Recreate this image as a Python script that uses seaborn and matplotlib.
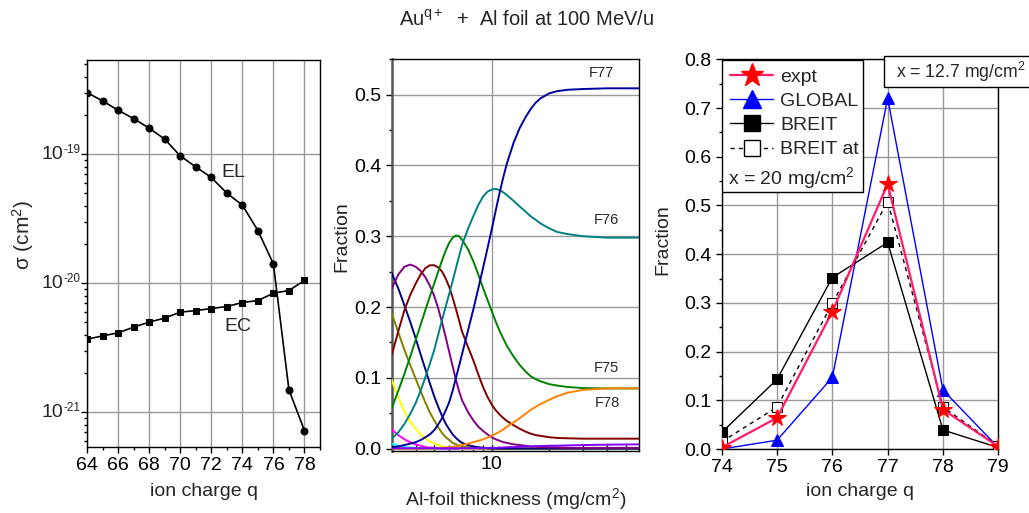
import numpy as np
import pandas as pd
import matplotlib
matplotlib.use("Agg")
import matplotlib.pyplot as plt
import matplotlib.transforms as mtransforms
from matplotlib.lines import Line2D
from matplotlib.patches import Rectangle
from matplotlib.ticker import FixedLocator, NullFormatter, MultipleLocator, FormatStrFormatter
import seaborn as sns

# ---------------- data ----------------
# cross sections vs ion charge
q_sigma = [64, 65, 66, 67, 68, 69, 70, 71, 72, 73, 74, 75, 76, 77, 78]
sigma_EL = [3.0e-19, 2.59e-19, 2.19e-19, 1.89e-19, 1.59e-19, 1.31e-19, 9.7e-20,
            7.97e-20, 6.6e-20, 4.99e-20, 4.03e-20, 2.56e-20, 1.41e-20, 1.49e-21, 7.2e-22]
sigma_EC = [3.68e-21, 3.9e-21, 4.12e-21, 4.56e-21, 4.99e-21, 5.36e-21, 5.96e-21,
            6.13e-21, 6.36e-21, 6.59e-21, 7.08e-21, 7.33e-21, 8.36e-21, 8.77e-21, 1.05e-20]
sigma_decades = [-21, -20, -19]

# charge-state fractions vs Al-foil thickness (mg/cm^2)
thickness = [3, 3.25, 3.5, 3.75, 4, 4.25, 4.5, 4.75, 5, 5.25,
             5.5, 5.75, 6, 6.25, 6.5, 6.75, 7, 7.5, 8, 8.5,
             9, 9.5, 10, 10.5, 11, 11.5, 12, 13, 14, 15,
             16, 17, 18, 20, 22, 25, 30, 40, 59]
F68 = [0.007, 0.004, 0.002, 0.0015, 0.001, 0.0005] + [0] * 33
F69 = [0.027, 0.019, 0.013, 0.009, 0.006, 0.004, 0.002, 0.0015, 0.001, 0.0005] + [0] * 29
F70 = [0.097, 0.072, 0.052, 0.038, 0.028, 0.020, 0.014, 0.010, 0.007, 0.005,
       0.003, 0.002, 0.0015, 0.001, 0.001, 0.0005] + [0] * 23
F71 = [0.191, 0.164, 0.139, 0.118, 0.099, 0.081, 0.065, 0.051, 0.040, 0.030,
       0.022, 0.016, 0.012, 0.008, 0.006, 0.004, 0.003, 0.002, 0.001, 0.0005] + [0] * 19
F72 = [0.248, 0.226, 0.202, 0.179, 0.156, 0.133, 0.112, 0.092, 0.074, 0.059,
       0.046, 0.035, 0.027, 0.020, 0.015, 0.011, 0.008, 0.005, 0.003, 0.002,
       0.001, 0.0005] + [0] * 17
F73 = [0.226, 0.246, 0.257, 0.260, 0.257, 0.251, 0.242, 0.230, 0.216, 0.198,
       0.178, 0.157, 0.136, 0.116, 0.097, 0.081, 0.068, 0.052, 0.040, 0.031,
       0.025, 0.020, 0.016, 0.013, 0.011, 0.009, 0.008, 0.006, 0.005, 0.004,
       0.003, 0.003, 0.002, 0.002, 0.0015, 0.001, 0.001, 0.001, 0.001]
F74 = [0.132, 0.166, 0.196, 0.217, 0.233, 0.246, 0.255, 0.259, 0.259, 0.256,
       0.250, 0.240, 0.228, 0.213, 0.197, 0.181, 0.165, 0.144, 0.125, 0.105,
       0.087, 0.073, 0.062, 0.054, 0.048, 0.043, 0.039, 0.033, 0.028, 0.024,
       0.021, 0.019, 0.018, 0.016, 0.015, 0.0145, 0.014, 0.014, 0.014]
F75 = [0.057, 0.082, 0.106, 0.130, 0.153, 0.175, 0.196, 0.215, 0.233, 0.250,
       0.266, 0.280, 0.291, 0.298, 0.301, 0.300, 0.295, 0.282, 0.265, 0.246,
       0.227, 0.210, 0.194, 0.179, 0.166, 0.155, 0.145, 0.130, 0.118, 0.109,
       0.102, 0.098, 0.095, 0.091, 0.089, 0.087, 0.0855, 0.085, 0.085]
F76 = [0.014, 0.023, 0.035, 0.049, 0.064, 0.082, 0.101, 0.120, 0.139, 0.161,
       0.182, 0.201, 0.219, 0.237, 0.255, 0.272, 0.288, 0.310, 0.328, 0.344,
       0.356, 0.363, 0.366, 0.367, 0.365, 0.362, 0.358, 0.350, 0.342, 0.335,
       0.328, 0.323, 0.318, 0.311, 0.306, 0.303, 0.300, 0.298, 0.298]
F77 = [0.002, 0.003, 0.005, 0.007, 0.009, 0.012, 0.016, 0.020, 0.026, 0.034,
       0.043, 0.054, 0.066, 0.082, 0.100, 0.117, 0.134, 0.166, 0.196, 0.226,
       0.255, 0.283, 0.310, 0.337, 0.362, 0.384, 0.403, 0.432, 0.453, 0.468,
       0.480, 0.489, 0.495, 0.502, 0.505, 0.507, 0.508, 0.509, 0.509]
F78 = [0] * 9 + [0.0005, 0.001, 0.0015, 0.002, 0.0025, 0.003, 0.004, 0.005, 0.007, 0.009, 0.011,
                 0.013, 0.0155, 0.018, 0.021, 0.024, 0.027, 0.031, 0.037, 0.043, 0.049,
                 0.055, 0.059, 0.063, 0.069, 0.074, 0.079, 0.083, 0.085, 0.085]
F79 = [0.0005] * 21 + [0.001, 0.001, 0.001, 0.0015, 0.0015, 0.002, 0.002, 0.0025, 0.003,
                       0.003, 0.0035, 0.0035, 0.004, 0.004, 0.0045, 0.005, 0.0055, 0.006]

# charge-state distribution at the exit of the foil
q_dist = [74, 75, 76, 77, 78, 79]
frac_expt = [0.003, 0.064, 0.282, 0.544, 0.081, 0.005]
frac_global = [0.0, 0.018, 0.147, 0.720, 0.121, 0.003]
frac_breit = [0.034, 0.143, 0.352, 0.424, 0.039, 0.003]
frac_breit_at = [0.015, 0.086, 0.299, 0.508, 0.086, 0.006]

# ---------------- style ----------------
sns.set_theme(style="ticks")
plt.rcParams["font.family"] = ["Liberation Sans", "DejaVu Sans"]
plt.rcParams["mathtext.fontset"] = "custom"
plt.rcParams["mathtext.rm"] = "Liberation Sans"
plt.rcParams["mathtext.it"] = "Liberation Sans:italic"
plt.rcParams["mathtext.bf"] = "Liberation Sans:bold"
plt.rcParams["axes.unicode_minus"] = False
plt.rcParams["font.size"] = 14
plt.rcParams["axes.labelsize"] = 14
plt.rcParams["xtick.labelsize"] = 14
plt.rcParams["ytick.labelsize"] = 14
plt.rcParams["axes.edgecolor"] = "black"
plt.rcParams["axes.linewidth"] = 1.0
plt.rcParams["xtick.color"] = "black"
plt.rcParams["ytick.color"] = "black"

W, H = 1029, 513
fig = plt.figure(figsize=(W / 100, H / 100), dpi=100)


def px_axes(left, right, top, bottom):
    return fig.add_axes([left / W, 1 - bottom / H, (right - left) / W, (bottom - top) / H])


grid_kw = dict(color="#9a9a9a", linewidth=1.0)

# ---------------- left: cross sections ----------------
ax1 = px_axes(87, 320, 60, 447)
ax1.set_yscale("log")
sns.lineplot(x=q_sigma, y=sigma_EL, ax=ax1, color="black", linewidth=1.2,
             marker="o", markersize=5, markeredgecolor="black", zorder=3)
sns.lineplot(x=q_sigma, y=sigma_EC, ax=ax1, color="black", linewidth=1.2,
             marker="s", markersize=5, markeredgecolor="black", zorder=3)
ax1.set_xlim(64, 79)
ax1.set_ylim(10 ** -21.27, 10 ** -18.27)
ax1.xaxis.set_major_locator(FixedLocator([64, 66, 68, 70, 72, 74, 76, 78]))
ax1.xaxis.set_minor_locator(MultipleLocator(1))
ax1.yaxis.set_major_locator(FixedLocator([10.0 ** d for d in sigma_decades]))
ax1.yaxis.set_major_formatter(NullFormatter())
ax1.yaxis.set_minor_locator(FixedLocator(
    [m * 10.0 ** e for e in (-22, -21, -20, -19) for m in range(2, 10)
     if 10 ** -21.27 < m * 10.0 ** e < 10 ** -18.27]))
ax1.yaxis.set_minor_formatter(NullFormatter())
ax1.grid(True, which="major", **grid_kw)
ax1.tick_params(which="major", direction="out", length=4, width=1)
ax1.tick_params(which="minor", direction="out", length=2.5, width=1)
# decade labels: full-size mantissa with a small raised exponent
blend = mtransforms.blended_transform_factory(ax1.transAxes, ax1.transData)
for d in sigma_decades:
    ax1.text(-0.103, 10.0 ** d, "10", transform=blend, ha="right", va="center", fontsize=14)
    ax1.text(-0.103, 10.0 ** d * 0.97, f"{d}", transform=blend, ha="left", va="bottom", fontsize=8.5)
ax1.set_xlabel("ion charge q", labelpad=6)
ax1.set_ylabel(r"σ (cm$^2$)", fontsize=15)
ax1.yaxis.set_label_coords(-0.219, 0.548)
ax1.text(73.4, 7.2e-20, "EL", ha="center", va="center", fontsize=14)
ax1.text(73.7, 4.6e-21, "EC", ha="center", va="center", fontsize=14)

# ---------------- middle: fractions vs thickness ----------------
ax2 = px_axes(391.7, 639.3, 59.3, 450.7)
ax2.set_xscale("log")
curves = {"F68": F68, "F69": F69, "F70": F70, "F71": F71, "F72": F72, "F73": F73,
          "F74": F74, "F75": F75, "F76": F76, "F78": F78, "F79": F79, "F77": F77}
palette = {"F68": "#00ffff", "F69": "#ff00ff", "F70": "#ffff00", "F71": "#808000",
           "F72": "#000080", "F73": "#800080", "F74": "#800000", "F75": "#008000",
           "F76": "#008080", "F77": "#0000a0", "F78": "#ff8000", "F79": "#8000ff"}
long = pd.concat([pd.DataFrame({"thickness": thickness, "fraction": v, "curve": k})
                  for k, v in curves.items()], ignore_index=True)
sns.lineplot(data=long, x="thickness", y="fraction", hue="curve", palette=palette,
             hue_order=list(curves.keys()), legend=False, ax=ax2, linewidth=1.4,
             estimator=None, zorder=3)
ax2.set_xlim(3, 59)
ax2.set_ylim(-0.003, 0.55)
ax2.xaxis.set_major_locator(FixedLocator([10]))
ax2.xaxis.set_major_formatter(FormatStrFormatter("%d"))
ax2.xaxis.set_minor_locator(FixedLocator([4, 5, 6, 7, 8, 9, 20, 30, 40, 50]))
ax2.xaxis.set_minor_formatter(NullFormatter())
ax2.yaxis.set_major_locator(MultipleLocator(0.1))
ax2.yaxis.set_minor_locator(MultipleLocator(0.05))
ax2.yaxis.set_major_formatter(FormatStrFormatter("%.1f"))
ax2.grid(True, which="major", **grid_kw)
ax2.tick_params(axis="x", which="both", direction="in", length=4, width=1)
ax2.tick_params(axis="y", which="major", direction="out", length=4, width=1)
ax2.tick_params(axis="y", which="minor", direction="out", length=2.5, width=1)
ax2.spines["left"].set_color("#555555")
ax2.spines["left"].set_linewidth(1.8)
ax2.set_xlabel(r"Al-foil thickness (mg/cm$^2$)", labelpad=10)
ax2.set_ylabel("Fraction")
ax2.yaxis.set_label_coords(-0.165, 0.546)
for lab, xx, yy in [("F77", 37.5, 0.53), ("F76", 39.9, 0.323),
                    ("F75", 39.9, 0.114), ("F78", 40.4, 0.064)]:
    ax2.text(xx, yy, lab, ha="center", va="center", fontsize=10.5)

# ---------------- right: charge-state distribution ----------------
ax3 = px_axes(721.7, 998.3, 59.3, 449)
sns.lineplot(x=q_dist, y=frac_global, ax=ax3, color="#0000ff", linewidth=1.0,
             marker="^", markersize=9, markerfacecolor="#0000ff", markeredgecolor="#0000ff", zorder=3)
sns.lineplot(x=q_dist, y=frac_breit, ax=ax3, color="black", linewidth=1.0,
             marker="s", markersize=6.5, markerfacecolor="black", markeredgecolor="black", zorder=3)
sns.lineplot(x=q_dist, y=frac_breit_at, ax=ax3, color="black", linewidth=1.0,
             linestyle=(0, (3, 3)), marker="s", markersize=6.5, markerfacecolor="white",
             markeredgecolor="black", zorder=3)
sns.lineplot(x=q_dist, y=frac_expt, ax=ax3, color="#ff1a6e", linewidth=1.6,
             marker="*", markersize=13, markerfacecolor="#ff0000", markeredgecolor="#ff0000", zorder=3)
ax3.set_xlim(74, 79)
ax3.set_ylim(0, 0.8)
ax3.xaxis.set_major_locator(MultipleLocator(1))
ax3.yaxis.set_major_locator(MultipleLocator(0.1))
ax3.yaxis.set_minor_locator(MultipleLocator(0.05))
ax3.yaxis.set_major_formatter(FormatStrFormatter("%.1f"))
ax3.grid(True, which="major", **grid_kw)
ax3.tick_params(which="major", direction="out", length=4, width=1)
ax3.tick_params(which="minor", direction="out", length=2.5, width=1)
ax3.set_xlabel("ion charge q", labelpad=5)
ax3.set_ylabel("Fraction")
ax3.yaxis.set_label_coords(-0.183, 0.536)

# legend box with the thickness note underneath the entries
ax3.add_patch(Rectangle((0.001, 0.659), 0.51, 0.339, transform=ax3.transAxes,
                        facecolor="white", edgecolor="black", linewidth=1.0, zorder=4))
handles = [
    Line2D([], [], color="#ff1a6e", lw=1.6, marker="*", ms=17, mfc="#ff0000", mec="#ff0000"),
    Line2D([], [], color="#0000ff", lw=1.0, marker="^", ms=13, mfc="#0000ff", mec="#0000ff"),
    Line2D([], [], color="black", lw=1.0, marker="s", ms=11, mfc="black", mec="black"),
    Line2D([], [], color="black", lw=1.0, ls=(0, (3, 3)), marker="s", ms=11, mfc="white", mec="black"),
]
leg = ax3.legend(handles, ["expt", "GLOBAL", "BREIT", "BREIT at"], loc="upper left",
                 bbox_to_anchor=(0.0, 1.0), frameon=False, fontsize=14, handlelength=2.2,
                 handletextpad=0.35, labelspacing=0.34, borderpad=0.45, borderaxespad=0.0)
leg.set_zorder(5)
ax3.text(0.023, 0.695, r"x = 20 mg/cm$^2$", transform=ax3.transAxes, ha="left",
         va="center", fontsize=14, zorder=6)

# thickness note at the top right
fig.add_artist(Rectangle((886 / W, 1 - 88 / H), 160 / W, 31 / H, transform=fig.transFigure,
                         facecolor="#333333", edgecolor="none", zorder=9))
fig.add_artist(Rectangle((884 / W, 1 - 87 / H), 160 / W, 31 / H, transform=fig.transFigure,
                         facecolor="white", edgecolor="black", linewidth=1.0, zorder=10))
fig.text(896 / W, 1 - 72 / H, r"x = 12.7 mg/cm$^2$", ha="left", va="center",
         fontsize=12.7, zorder=11)

# title
fig.text(527 / W, 1 - 20 / H, r"Au$^{\mathregular{q+}}$  +  Al foil at 100 MeV/u",
         ha="center", va="center", fontsize=14.5)

fig.savefig("out.png", dpi=100)
